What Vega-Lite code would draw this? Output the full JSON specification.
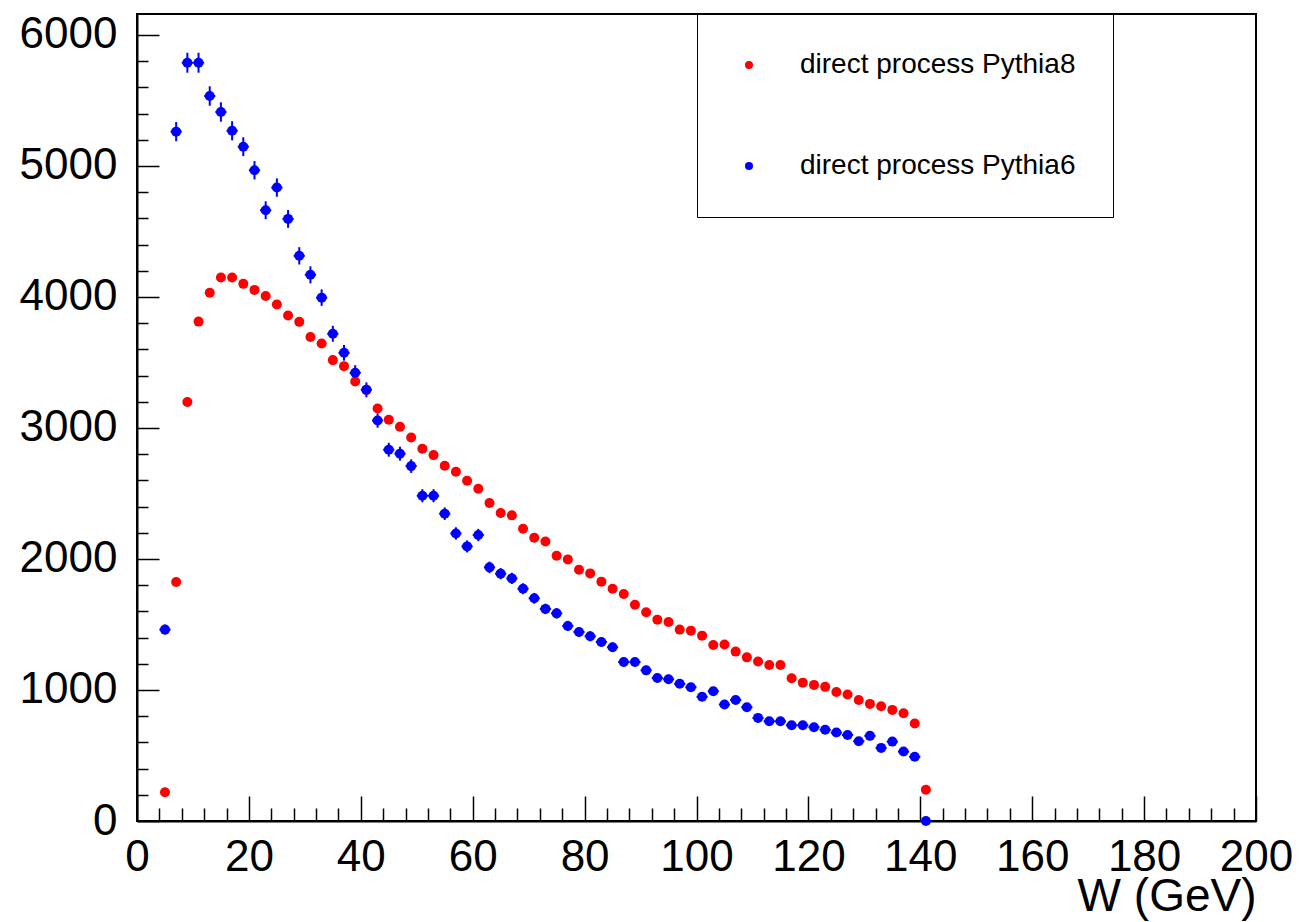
{
  "$schema": "https://vega.github.io/schema/vega-lite/v6.json",
  "autosize": "none",
  "width": 1119,
  "height": 807,
  "padding": {"left": 137, "top": 14, "right": 43, "bottom": 101},
  "background": "white",
  "config": {
    "font": "Liberation Sans",
    "view": {"stroke": "black", "strokeWidth": 2},
    "axis": {"grid": false, "domainColor": "black", "domainWidth": 2, "tickColor": "black", "tickWidth": 1.5, "labelColor": "black", "titleColor": "black", "labelFont": "Liberation Sans", "titleFont": "Liberation Sans", "labelFontSize": 44, "titleFontSize": 46, "titleFontWeight": "normal", "format": "d", "labelFlush": false, "labelOverlap": false}
  },
  "datasets": {
    "h": [
      {"W": 5, "value": 220, "series": "direct process Pythia8"},
      {"W": 7, "value": 1825, "series": "direct process Pythia8"},
      {"W": 9, "value": 3198, "series": "direct process Pythia8"},
      {"W": 11, "value": 3812, "series": "direct process Pythia8"},
      {"W": 13, "value": 4032, "series": "direct process Pythia8"},
      {"W": 15, "value": 4148, "series": "direct process Pythia8"},
      {"W": 17, "value": 4148, "series": "direct process Pythia8"},
      {"W": 19, "value": 4100, "series": "direct process Pythia8"},
      {"W": 21, "value": 4054, "series": "direct process Pythia8"},
      {"W": 23, "value": 4008, "series": "direct process Pythia8"},
      {"W": 25, "value": 3942, "series": "direct process Pythia8"},
      {"W": 27, "value": 3859, "series": "direct process Pythia8"},
      {"W": 29, "value": 3810, "series": "direct process Pythia8"},
      {"W": 31, "value": 3695, "series": "direct process Pythia8"},
      {"W": 33, "value": 3645, "series": "direct process Pythia8"},
      {"W": 35, "value": 3518, "series": "direct process Pythia8"},
      {"W": 37, "value": 3472, "series": "direct process Pythia8"},
      {"W": 39, "value": 3355, "series": "direct process Pythia8"},
      {"W": 41, "value": 3291, "series": "direct process Pythia8"},
      {"W": 43, "value": 3149, "series": "direct process Pythia8"},
      {"W": 45, "value": 3063, "series": "direct process Pythia8"},
      {"W": 47, "value": 3010, "series": "direct process Pythia8"},
      {"W": 49, "value": 2928, "series": "direct process Pythia8"},
      {"W": 51, "value": 2841, "series": "direct process Pythia8"},
      {"W": 53, "value": 2793, "series": "direct process Pythia8"},
      {"W": 55, "value": 2712, "series": "direct process Pythia8"},
      {"W": 57, "value": 2666, "series": "direct process Pythia8"},
      {"W": 59, "value": 2597, "series": "direct process Pythia8"},
      {"W": 61, "value": 2536, "series": "direct process Pythia8"},
      {"W": 63, "value": 2427, "series": "direct process Pythia8"},
      {"W": 65, "value": 2351, "series": "direct process Pythia8"},
      {"W": 67, "value": 2333, "series": "direct process Pythia8"},
      {"W": 69, "value": 2231, "series": "direct process Pythia8"},
      {"W": 71, "value": 2162, "series": "direct process Pythia8"},
      {"W": 73, "value": 2134, "series": "direct process Pythia8"},
      {"W": 75, "value": 2025, "series": "direct process Pythia8"},
      {"W": 77, "value": 1997, "series": "direct process Pythia8"},
      {"W": 79, "value": 1918, "series": "direct process Pythia8"},
      {"W": 81, "value": 1890, "series": "direct process Pythia8"},
      {"W": 83, "value": 1827, "series": "direct process Pythia8"},
      {"W": 85, "value": 1773, "series": "direct process Pythia8"},
      {"W": 87, "value": 1733, "series": "direct process Pythia8"},
      {"W": 89, "value": 1651, "series": "direct process Pythia8"},
      {"W": 91, "value": 1593, "series": "direct process Pythia8"},
      {"W": 93, "value": 1537, "series": "direct process Pythia8"},
      {"W": 95, "value": 1519, "series": "direct process Pythia8"},
      {"W": 97, "value": 1461, "series": "direct process Pythia8"},
      {"W": 99, "value": 1453, "series": "direct process Pythia8"},
      {"W": 101, "value": 1415, "series": "direct process Pythia8"},
      {"W": 103, "value": 1343, "series": "direct process Pythia8"},
      {"W": 105, "value": 1347, "series": "direct process Pythia8"},
      {"W": 107, "value": 1293, "series": "direct process Pythia8"},
      {"W": 109, "value": 1249, "series": "direct process Pythia8"},
      {"W": 111, "value": 1217, "series": "direct process Pythia8"},
      {"W": 113, "value": 1191, "series": "direct process Pythia8"},
      {"W": 115, "value": 1191, "series": "direct process Pythia8"},
      {"W": 117, "value": 1089, "series": "direct process Pythia8"},
      {"W": 119, "value": 1056, "series": "direct process Pythia8"},
      {"W": 121, "value": 1039, "series": "direct process Pythia8"},
      {"W": 123, "value": 1024, "series": "direct process Pythia8"},
      {"W": 125, "value": 985, "series": "direct process Pythia8"},
      {"W": 127, "value": 965, "series": "direct process Pythia8"},
      {"W": 129, "value": 924, "series": "direct process Pythia8"},
      {"W": 131, "value": 894, "series": "direct process Pythia8"},
      {"W": 133, "value": 876, "series": "direct process Pythia8"},
      {"W": 135, "value": 848, "series": "direct process Pythia8"},
      {"W": 137, "value": 822, "series": "direct process Pythia8"},
      {"W": 139, "value": 744, "series": "direct process Pythia8"},
      {"W": 141, "value": 238, "series": "direct process Pythia8"},
      {"W": 5, "value": 1461, "lo": 1423, "hi": 1499, "wlo": 4, "whi": 6, "series": "direct process Pythia6"},
      {"W": 7, "value": 5262, "lo": 5189, "hi": 5335, "wlo": 6, "whi": 8, "series": "direct process Pythia6"},
      {"W": 9, "value": 5788, "lo": 5712, "hi": 5864, "wlo": 8, "whi": 10, "series": "direct process Pythia6"},
      {"W": 11, "value": 5788, "lo": 5712, "hi": 5864, "wlo": 10, "whi": 12, "series": "direct process Pythia6"},
      {"W": 13, "value": 5534, "lo": 5460, "hi": 5608, "wlo": 12, "whi": 14, "series": "direct process Pythia6"},
      {"W": 15, "value": 5412, "lo": 5338, "hi": 5486, "wlo": 14, "whi": 16, "series": "direct process Pythia6"},
      {"W": 17, "value": 5269, "lo": 5196, "hi": 5342, "wlo": 16, "whi": 18, "series": "direct process Pythia6"},
      {"W": 19, "value": 5147, "lo": 5075, "hi": 5219, "wlo": 18, "whi": 20, "series": "direct process Pythia6"},
      {"W": 21, "value": 4967, "lo": 4897, "hi": 5037, "wlo": 20, "whi": 22, "series": "direct process Pythia6"},
      {"W": 23, "value": 4662, "lo": 4594, "hi": 4730, "wlo": 22, "whi": 24, "series": "direct process Pythia6"},
      {"W": 25, "value": 4835, "lo": 4765, "hi": 4905, "wlo": 24, "whi": 26, "series": "direct process Pythia6"},
      {"W": 27, "value": 4596, "lo": 4528, "hi": 4664, "wlo": 26, "whi": 28, "series": "direct process Pythia6"},
      {"W": 29, "value": 4314, "lo": 4248, "hi": 4380, "wlo": 28, "whi": 30, "series": "direct process Pythia6"},
      {"W": 31, "value": 4169, "lo": 4104, "hi": 4234, "wlo": 30, "whi": 32, "series": "direct process Pythia6"},
      {"W": 33, "value": 3995, "lo": 3932, "hi": 4058, "wlo": 32, "whi": 34, "series": "direct process Pythia6"},
      {"W": 35, "value": 3719, "lo": 3658, "hi": 3780, "wlo": 34, "whi": 36, "series": "direct process Pythia6"},
      {"W": 37, "value": 3574, "lo": 3514, "hi": 3634, "wlo": 36, "whi": 38, "series": "direct process Pythia6"},
      {"W": 39, "value": 3421, "lo": 3363, "hi": 3479, "wlo": 38, "whi": 40, "series": "direct process Pythia6"},
      {"W": 41, "value": 3291, "lo": 3234, "hi": 3348, "wlo": 40, "whi": 42, "series": "direct process Pythia6"},
      {"W": 43, "value": 3057, "lo": 3002, "hi": 3112, "wlo": 42, "whi": 44, "series": "direct process Pythia6"},
      {"W": 45, "value": 2834, "lo": 2781, "hi": 2887, "wlo": 44, "whi": 46, "series": "direct process Pythia6"},
      {"W": 47, "value": 2804, "lo": 2751, "hi": 2857, "wlo": 46, "whi": 48, "series": "direct process Pythia6"},
      {"W": 49, "value": 2709, "lo": 2657, "hi": 2761, "wlo": 48, "whi": 50, "series": "direct process Pythia6"},
      {"W": 51, "value": 2483, "lo": 2433, "hi": 2533, "wlo": 50, "whi": 52, "series": "direct process Pythia6"},
      {"W": 53, "value": 2483, "lo": 2433, "hi": 2533, "wlo": 52, "whi": 54, "series": "direct process Pythia6"},
      {"W": 55, "value": 2346, "lo": 2298, "hi": 2394, "wlo": 54, "whi": 56, "series": "direct process Pythia6"},
      {"W": 57, "value": 2195, "lo": 2148, "hi": 2242, "wlo": 56, "whi": 58, "series": "direct process Pythia6"},
      {"W": 59, "value": 2096, "lo": 2050, "hi": 2142, "wlo": 58, "whi": 60, "series": "direct process Pythia6"},
      {"W": 61, "value": 2183, "lo": 2136, "hi": 2230, "wlo": 60, "whi": 62, "series": "direct process Pythia6"},
      {"W": 63, "value": 1936, "lo": 1892, "hi": 1980, "wlo": 62, "whi": 64, "series": "direct process Pythia6"},
      {"W": 65, "value": 1888, "lo": 1845, "hi": 1931, "wlo": 64, "whi": 66, "series": "direct process Pythia6"},
      {"W": 67, "value": 1852, "lo": 1809, "hi": 1895, "wlo": 66, "whi": 68, "series": "direct process Pythia6"},
      {"W": 69, "value": 1773, "lo": 1731, "hi": 1815, "wlo": 68, "whi": 70, "series": "direct process Pythia6"},
      {"W": 71, "value": 1700, "lo": 1659, "hi": 1741, "wlo": 70, "whi": 72, "series": "direct process Pythia6"},
      {"W": 73, "value": 1619, "lo": 1579, "hi": 1659, "wlo": 72, "whi": 74, "series": "direct process Pythia6"},
      {"W": 75, "value": 1585, "lo": 1545, "hi": 1625, "wlo": 74, "whi": 76, "series": "direct process Pythia6"},
      {"W": 77, "value": 1489, "lo": 1450, "hi": 1528, "wlo": 76, "whi": 78, "series": "direct process Pythia6"},
      {"W": 79, "value": 1443, "lo": 1405, "hi": 1481, "wlo": 78, "whi": 80, "series": "direct process Pythia6"},
      {"W": 81, "value": 1410, "lo": 1372, "hi": 1448, "wlo": 80, "whi": 82, "series": "direct process Pythia6"},
      {"W": 83, "value": 1367, "lo": 1330, "hi": 1404, "wlo": 82, "whi": 84, "series": "direct process Pythia6"},
      {"W": 85, "value": 1326, "lo": 1290, "hi": 1362, "wlo": 84, "whi": 86, "series": "direct process Pythia6"},
      {"W": 87, "value": 1214, "lo": 1179, "hi": 1249, "wlo": 86, "whi": 88, "series": "direct process Pythia6"},
      {"W": 89, "value": 1214, "lo": 1179, "hi": 1249, "wlo": 88, "whi": 90, "series": "direct process Pythia6"},
      {"W": 91, "value": 1150, "lo": 1116, "hi": 1184, "wlo": 90, "whi": 92, "series": "direct process Pythia6"},
      {"W": 93, "value": 1092, "lo": 1059, "hi": 1125, "wlo": 92, "whi": 94, "series": "direct process Pythia6"},
      {"W": 95, "value": 1082, "lo": 1049, "hi": 1115, "wlo": 94, "whi": 96, "series": "direct process Pythia6"},
      {"W": 97, "value": 1047, "lo": 1015, "hi": 1079, "wlo": 96, "whi": 98, "series": "direct process Pythia6"},
      {"W": 99, "value": 1021, "lo": 989, "hi": 1053, "wlo": 98, "whi": 100, "series": "direct process Pythia6"},
      {"W": 101, "value": 948, "lo": 917, "hi": 979, "wlo": 100, "whi": 102, "series": "direct process Pythia6"},
      {"W": 103, "value": 990, "lo": 959, "hi": 1021, "wlo": 102, "whi": 104, "series": "direct process Pythia6"},
      {"W": 105, "value": 889, "lo": 859, "hi": 919, "wlo": 104, "whi": 106, "series": "direct process Pythia6"},
      {"W": 107, "value": 924, "lo": 894, "hi": 954, "wlo": 106, "whi": 108, "series": "direct process Pythia6"},
      {"W": 109, "value": 868, "lo": 839, "hi": 897, "wlo": 108, "whi": 110, "series": "direct process Pythia6"},
      {"W": 111, "value": 787, "lo": 759, "hi": 815, "wlo": 110, "whi": 112, "series": "direct process Pythia6"},
      {"W": 113, "value": 761, "lo": 733, "hi": 789, "wlo": 112, "whi": 114, "series": "direct process Pythia6"},
      {"W": 115, "value": 761, "lo": 733, "hi": 789, "wlo": 114, "whi": 116, "series": "direct process Pythia6"},
      {"W": 117, "value": 731, "lo": 704, "hi": 758, "wlo": 116, "whi": 118, "series": "direct process Pythia6"},
      {"W": 119, "value": 731, "lo": 704, "hi": 758, "wlo": 118, "whi": 120, "series": "direct process Pythia6"},
      {"W": 121, "value": 716, "lo": 689, "hi": 743, "wlo": 120, "whi": 122, "series": "direct process Pythia6"},
      {"W": 123, "value": 696, "lo": 670, "hi": 722, "wlo": 122, "whi": 124, "series": "direct process Pythia6"},
      {"W": 125, "value": 675, "lo": 649, "hi": 701, "wlo": 124, "whi": 126, "series": "direct process Pythia6"},
      {"W": 127, "value": 657, "lo": 631, "hi": 683, "wlo": 126, "whi": 128, "series": "direct process Pythia6"},
      {"W": 129, "value": 609, "lo": 584, "hi": 634, "wlo": 128, "whi": 130, "series": "direct process Pythia6"},
      {"W": 131, "value": 650, "lo": 625, "hi": 675, "wlo": 130, "whi": 132, "series": "direct process Pythia6"},
      {"W": 133, "value": 558, "lo": 534, "hi": 582, "wlo": 132, "whi": 134, "series": "direct process Pythia6"},
      {"W": 135, "value": 606, "lo": 581, "hi": 631, "wlo": 134, "whi": 136, "series": "direct process Pythia6"},
      {"W": 137, "value": 530, "lo": 507, "hi": 553, "wlo": 136, "whi": 138, "series": "direct process Pythia6"},
      {"W": 139, "value": 490, "lo": 468, "hi": 512, "wlo": 138, "whi": 140, "series": "direct process Pythia6"},
      {"W": 141, "value": 0, "lo": 0, "hi": 0, "wlo": 140, "whi": 142, "series": "direct process Pythia6"}
    ]
  },
  "data": {"name": "h"},
  "resolve": {"axis": {"x": "independent", "y": "independent"}},
  "layer": [
    {
      "transform": [{"filter": "datum.series === 'direct process Pythia6'"}],
      "mark": {"type": "rule", "color": "#0000ff", "strokeWidth": 2},
      "encoding": {
        "x": {"field": "W", "type": "quantitative", "scale": {"domain": [0, 200], "nice": false, "zero": false},
          "axis": {"orient": "bottom", "values": [4, 8, 12, 16, 24, 28, 32, 36, 44, 48, 52, 56, 64, 68, 72, 76, 84, 88, 92, 96, 104, 108, 112, 116, 124, 128, 132, 136, 144, 148, 152, 156, 164, 168, 172, 176, 184, 188, 192, 196], "labels": false, "domain": false, "title": null, "tickSize": -13}},
        "y": {"field": "lo", "type": "quantitative", "scale": {"domain": [0, 6160], "nice": false},
          "axis": {"orient": "left", "values": [200, 400, 600, 800, 1200, 1400, 1600, 1800, 2200, 2400, 2600, 2800, 3200, 3400, 3600, 3800, 4200, 4400, 4600, 4800, 5200, 5400, 5600, 5800], "labels": false, "domain": false, "title": null, "tickSize": -11}},
        "y2": {"field": "hi"}
      }
    },
    {
      "transform": [{"filter": "datum.series === 'direct process Pythia6'"}],
      "mark": {"type": "rule", "color": "#0000ff", "strokeWidth": 2},
      "encoding": {
        "x": {"field": "wlo", "type": "quantitative", "axis": null},
        "x2": {"field": "whi"},
        "y": {"field": "value", "type": "quantitative", "axis": null}
      }
    },
    {
      "mark": {"type": "point", "shape": "circle", "filled": true, "opacity": 1, "size": 100},
      "encoding": {
        "x": {"field": "W", "type": "quantitative",
          "axis": {"orient": "bottom", "values": [0, 20, 40, 60, 80, 100, 120, 140, 160, 180, 200], "format": "d", "tickSize": -25, "labelPadding": 39, "labelFlush": false, "labelOverlap": false, "title": "W (GeV)", "titleAnchor": "end", "titleAlign": "right", "titlePadding": -5}},
        "y": {"field": "value", "type": "quantitative",
          "axis": {"orient": "left", "values": [0, 1000, 2000, 3000, 4000, 5000, 6000], "format": "d", "tickSize": -22, "labelPadding": 42, "labelFlush": false, "labelOverlap": false, "title": null}},
        "color": {"field": "series", "type": "nominal",
          "scale": {"domain": ["direct process Pythia8", "direct process Pythia6"], "range": ["#ff0000", "#0000ff"]},
          "legend": {"orient": "none", "legendX": 560, "legendY": 0, "title": null, "strokeColor": "black", "fillColor": "white", "padding": 37, "symbolType": "circle", "symbolSize": 64, "symbolOffset": 1, "symbolStrokeWidth": 0, "labelOffset": 37, "labelFontSize": 28, "labelFont": "Liberation Sans", "labelColor": "black", "rowPadding": 73, "labelLimit": 400,
            "encoding": {"legend": {"update": {"strokeWidth": {"value": 2}}}}}}
      }
    }
  ]
}
